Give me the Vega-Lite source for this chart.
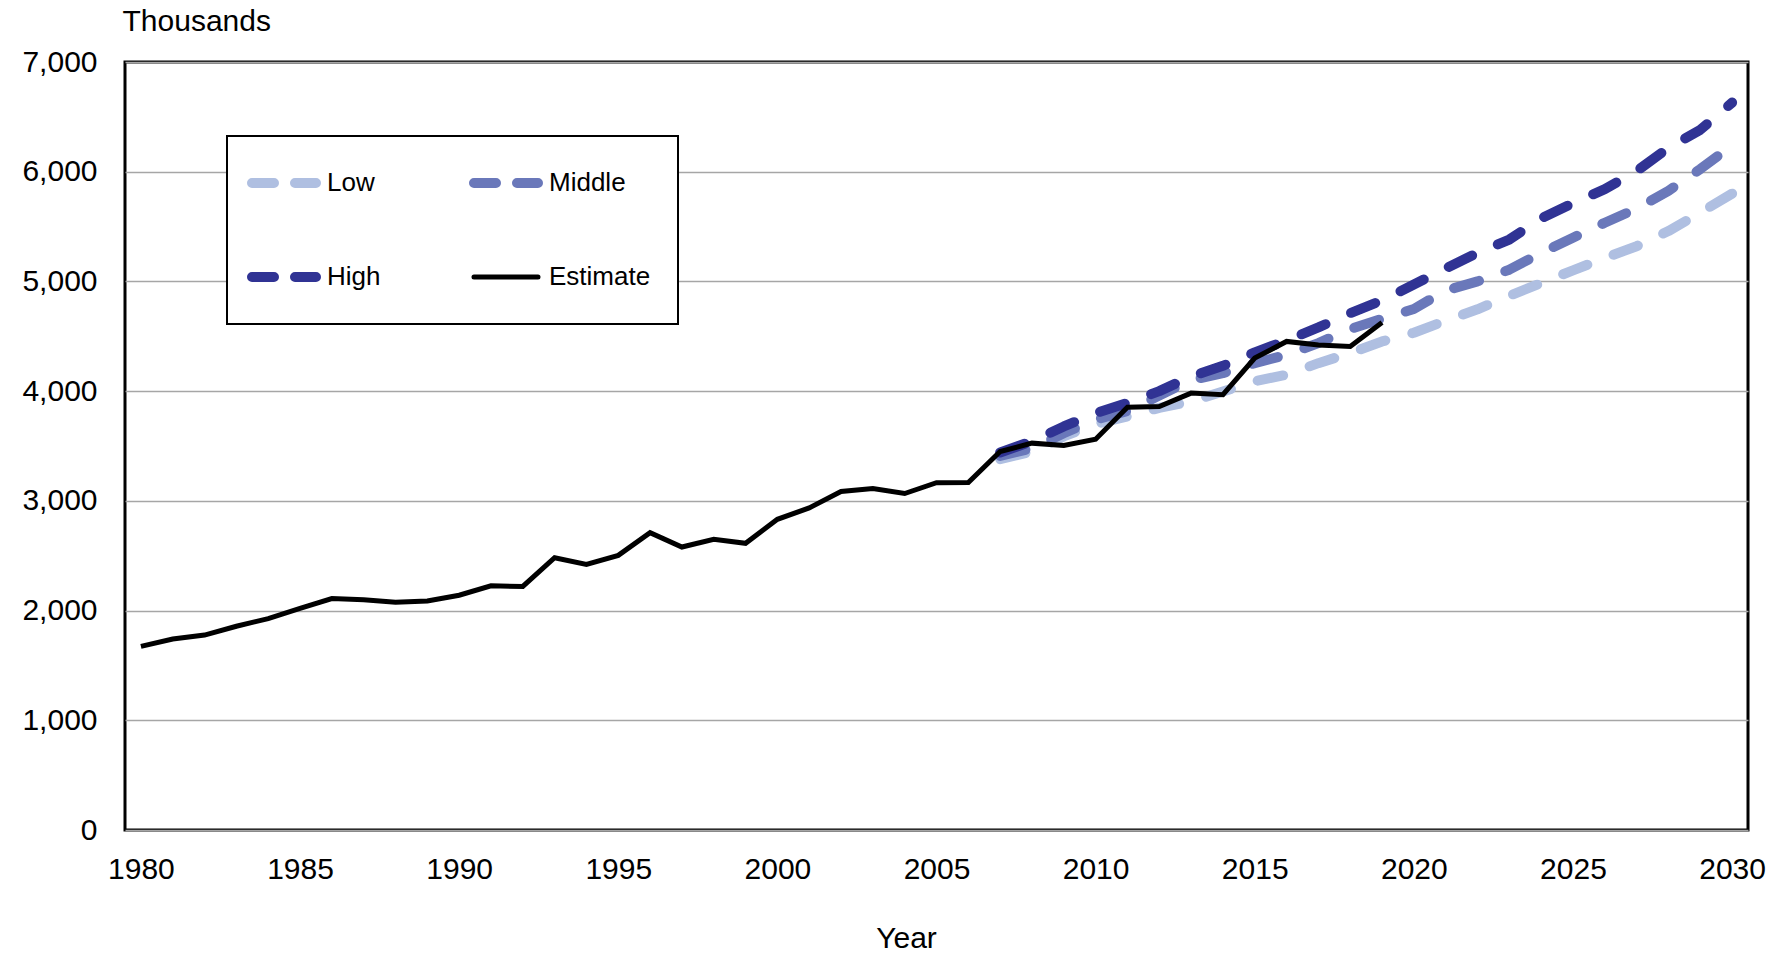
{
  "$schema": "https://vega.github.io/schema/vega-lite/v6.json",
  "width": 1623,
  "height": 768,
  "autosize": "none",
  "padding": {"left": 125, "top": 62, "right": 28, "bottom": 124},
  "background": "white",
  "config": {
    "view": {"stroke": "black", "strokeWidth": 3},
    "font": "Liberation Sans"
  },
  "datasets": {
    "proj": [
      {"year": 2007, "series": "Low", "value": 3380}, {"year": 2008, "series": "Low", "value": 3450}, {"year": 2009, "series": "Low", "value": 3587}, {"year": 2010, "series": "Low", "value": 3700}, {"year": 2011, "series": "Low", "value": 3769}, {"year": 2012, "series": "Low", "value": 3848}, {"year": 2013, "series": "Low", "value": 3906}, {"year": 2014, "series": "Low", "value": 3997}, {"year": 2015, "series": "Low", "value": 4090}, {"year": 2016, "series": "Low", "value": 4150}, {"year": 2017, "series": "Low", "value": 4255}, {"year": 2018, "series": "Low", "value": 4347}, {"year": 2019, "series": "Low", "value": 4453}, {"year": 2020, "series": "Low", "value": 4532}, {"year": 2021, "series": "Low", "value": 4642}, {"year": 2022, "series": "Low", "value": 4746}, {"year": 2023, "series": "Low", "value": 4869}, {"year": 2024, "series": "Low", "value": 4985}, {"year": 2025, "series": "Low", "value": 5101}, {"year": 2026, "series": "Low", "value": 5214}, {"year": 2027, "series": "Low", "value": 5321}, {"year": 2028, "series": "Low", "value": 5459}, {"year": 2029, "series": "Low", "value": 5627}, {"year": 2030, "series": "Low", "value": 5800},
      {"year": 2007, "series": "Middle", "value": 3410}, {"year": 2008, "series": "Middle", "value": 3480}, {"year": 2009, "series": "Middle", "value": 3617}, {"year": 2010, "series": "Middle", "value": 3740}, {"year": 2011, "series": "Middle", "value": 3818}, {"year": 2012, "series": "Middle", "value": 3960}, {"year": 2013, "series": "Middle", "value": 4100}, {"year": 2014, "series": "Middle", "value": 4164}, {"year": 2015, "series": "Middle", "value": 4255}, {"year": 2016, "series": "Middle", "value": 4331}, {"year": 2017, "series": "Middle", "value": 4438}, {"year": 2018, "series": "Middle", "value": 4565}, {"year": 2019, "series": "Middle", "value": 4660}, {"year": 2020, "series": "Middle", "value": 4749}, {"year": 2021, "series": "Middle", "value": 4917}, {"year": 2022, "series": "Middle", "value": 5000}, {"year": 2023, "series": "Middle", "value": 5107}, {"year": 2024, "series": "Middle", "value": 5260}, {"year": 2025, "series": "Middle", "value": 5398}, {"year": 2026, "series": "Middle", "value": 5535}, {"year": 2027, "series": "Middle", "value": 5664}, {"year": 2028, "series": "Middle", "value": 5826}, {"year": 2029, "series": "Middle", "value": 6024}, {"year": 2030, "series": "Middle", "value": 6239},
      {"year": 2007, "series": "High", "value": 3441}, {"year": 2008, "series": "High", "value": 3544}, {"year": 2009, "series": "High", "value": 3678}, {"year": 2010, "series": "High", "value": 3799}, {"year": 2011, "series": "High", "value": 3894}, {"year": 2012, "series": "High", "value": 4000}, {"year": 2013, "series": "High", "value": 4134}, {"year": 2014, "series": "High", "value": 4231}, {"year": 2015, "series": "High", "value": 4353}, {"year": 2016, "series": "High", "value": 4462}, {"year": 2017, "series": "High", "value": 4581}, {"year": 2018, "series": "High", "value": 4711}, {"year": 2019, "series": "High", "value": 4827}, {"year": 2020, "series": "High", "value": 4972}, {"year": 2021, "series": "High", "value": 5119}, {"year": 2022, "series": "High", "value": 5260}, {"year": 2023, "series": "High", "value": 5382}, {"year": 2024, "series": "High", "value": 5575}, {"year": 2025, "series": "High", "value": 5713}, {"year": 2026, "series": "High", "value": 5841}, {"year": 2027, "series": "High", "value": 6006}, {"year": 2028, "series": "High", "value": 6217}, {"year": 2029, "series": "High", "value": 6382}, {"year": 2030, "series": "High", "value": 6630}
    ],
    "est": [
      {"year": 1980, "series": "Estimate", "value": 1674}, {"year": 1981, "series": "Estimate", "value": 1741}, {"year": 1982, "series": "Estimate", "value": 1777}, {"year": 1983, "series": "Estimate", "value": 1857}, {"year": 1984, "series": "Estimate", "value": 1927}, {"year": 1985, "series": "Estimate", "value": 2020}, {"year": 1986, "series": "Estimate", "value": 2110}, {"year": 1987, "series": "Estimate", "value": 2098}, {"year": 1988, "series": "Estimate", "value": 2076}, {"year": 1989, "series": "Estimate", "value": 2088}, {"year": 1990, "series": "Estimate", "value": 2140}, {"year": 1991, "series": "Estimate", "value": 2226}, {"year": 1992, "series": "Estimate", "value": 2220}, {"year": 1993, "series": "Estimate", "value": 2482}, {"year": 1994, "series": "Estimate", "value": 2421}, {"year": 1995, "series": "Estimate", "value": 2503}, {"year": 1996, "series": "Estimate", "value": 2710}, {"year": 1997, "series": "Estimate", "value": 2579}, {"year": 1998, "series": "Estimate", "value": 2649}, {"year": 1999, "series": "Estimate", "value": 2613}, {"year": 2000, "series": "Estimate", "value": 2832}, {"year": 2001, "series": "Estimate", "value": 2936}, {"year": 2002, "series": "Estimate", "value": 3085}, {"year": 2003, "series": "Estimate", "value": 3113}, {"year": 2004, "series": "Estimate", "value": 3067}, {"year": 2005, "series": "Estimate", "value": 3165}, {"year": 2006, "series": "Estimate", "value": 3167}, {"year": 2007, "series": "Estimate", "value": 3450}, {"year": 2008, "series": "Estimate", "value": 3526}, {"year": 2009, "series": "Estimate", "value": 3505}, {"year": 2010, "series": "Estimate", "value": 3562}, {"year": 2011, "series": "Estimate", "value": 3854}, {"year": 2012, "series": "Estimate", "value": 3860}, {"year": 2013, "series": "Estimate", "value": 3982}, {"year": 2014, "series": "Estimate", "value": 3967}, {"year": 2015, "series": "Estimate", "value": 4301}, {"year": 2016, "series": "Estimate", "value": 4453}, {"year": 2017, "series": "Estimate", "value": 4420}, {"year": 2018, "series": "Estimate", "value": 4407}, {"year": 2019, "series": "Estimate", "value": 4626}
    ]
  },
  "encoding": {
    "x": {
      "field": "year", "type": "quantitative",
      "scale": {"domain": [1979.5, 2030.5], "nice": false, "zero": false},
      "axis": {
        "values": [1980, 1985, 1990, 1995, 2000, 2005, 2010, 2015, 2020, 2025, 2030],
        "format": "d", "grid": false, "domain": false, "ticks": false, "tickSize": 0,
        "labelFlush": false, "labelFontSize": 30, "labelFont": "Liberation Sans", "labelColor": "black",
        "labelPadding": 24,
        "title": "Year", "titleFontSize": 30, "titleFont": "Liberation Sans", "titleFontWeight": "normal", "titleColor": "black",
        "titleX": 781, "titleY": 108, "titleBaseline": "middle", "titleAnchor": null
      }
    },
    "y": {
      "field": "value", "type": "quantitative",
      "scale": {"domain": [0, 7000], "nice": false},
      "axis": {
        "values": [0, 1000, 2000, 3000, 4000, 5000, 6000, 7000],
        "format": ",d", "grid": true, "gridColor": "#A6A6A6", "gridWidth": 1.5,
        "domain": false, "ticks": false, "tickSize": 0,
        "labelFontSize": 30, "labelFont": "Liberation Sans", "labelColor": "black", "labelPadding": 28,
        "title": "Thousands", "titleAngle": 0, "titleAlign": "left", "titleBaseline": "alphabetic",
        "titleX": -3, "titleY": -32, "titleFontSize": 30, "titleFont": "Liberation Sans", "titleFontWeight": "normal", "titleColor": "black"
      }
    },
    "color": {
      "field": "series", "type": "nominal",
      "scale": {"domain": ["Low", "Middle", "High", "Estimate"], "range": ["#AFBFE1", "#6A78BA", "#303394", "#000000"]},
      "legend": {
        "title": " ", "titleFontSize": 1, "titlePadding": 6, "orient": "none", "legendX": 102, "legendY": 74,
        "columns": 2, "direction": "horizontal", "gridAlign": "each",
        "fillColor": "white", "strokeColor": "black",
        "padding": 27, "rowPadding": 54, "columnPadding": 73,
        "symbolType": "stroke", "symbolSize": 4096, "symbolStrokeWidth": 10,
        "labelFontSize": 26, "labelFont": "Liberation Sans", "labelColor": "black", "labelOffset": 6,
        "encode": {
          "legend": {"update": {"strokeWidth": {"value": 2}, "stroke": {"value": "black"}}},
          "symbols": {"update": {
            "x": {"value": 30},
            "strokeDash": {"signal": "datum.value === 'Estimate' ? [1, 0] : [22, 21]"},
            "strokeWidth": {"signal": "datum.value === 'Estimate' ? 5 : 10"},
            "strokeCap": {"value": "round"},
            "opacity": {"value": 1}
          }},
          "labels": {"update": {"x": {"value": 73}}}
        }
      }
    }
  },
  "layer": [
    {
      "data": {"name": "proj"},
      "mark": {"type": "line", "strokeWidth": 10, "strokeDash": [26, 28], "strokeCap": "round", "strokeJoin": "round"}
    },
    {
      "data": {"name": "est"},
      "mark": {"type": "line", "strokeWidth": 5, "strokeJoin": "miter"}
    }
  ]
}
